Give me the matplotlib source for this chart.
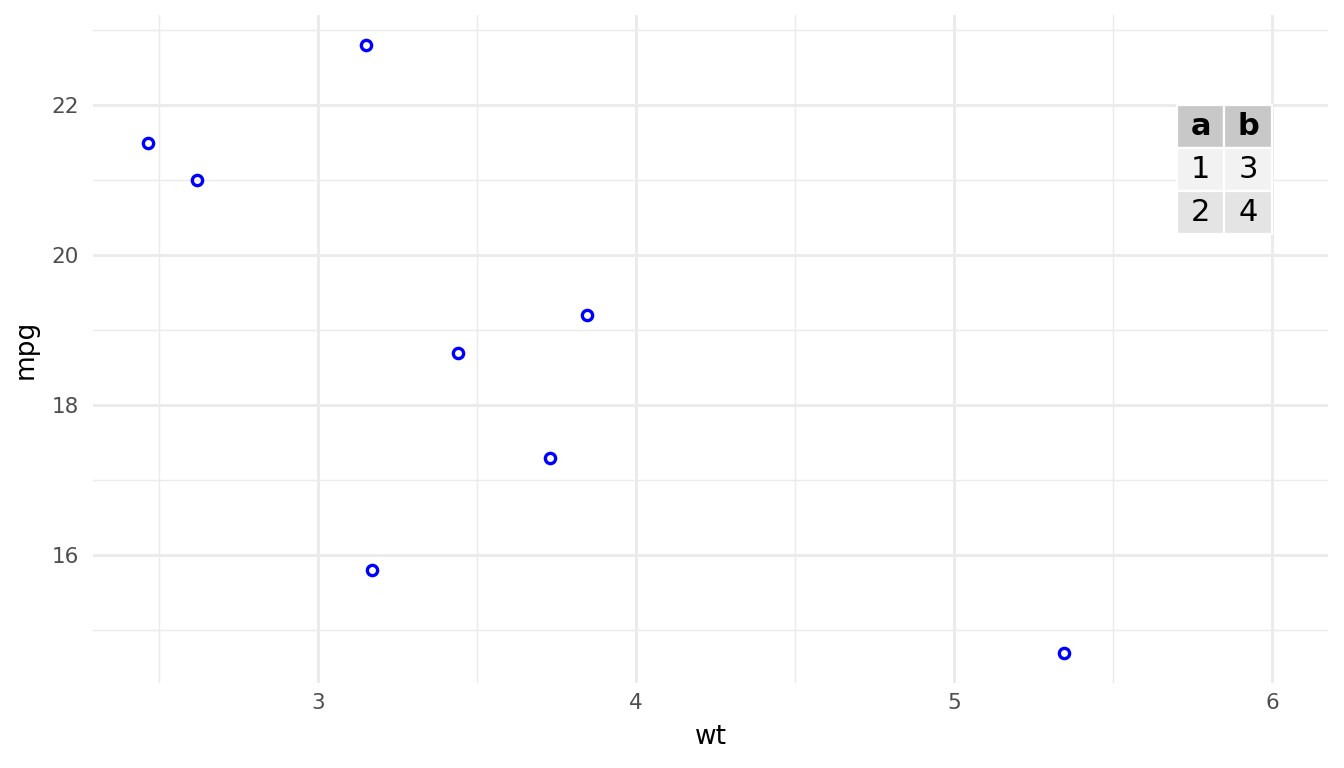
import matplotlib
matplotlib.use("Agg")
import matplotlib.pyplot as plt
import matplotlib.transforms as mtransforms
from matplotlib.patches import Rectangle

# mtcars subset
wt = [2.620, 3.150, 3.440, 3.730, 3.845, 3.170, 2.465, 5.345]
mpg = [21.0, 22.8, 18.7, 17.3, 19.2, 15.8, 21.5, 14.7]

x_major = [3, 4, 5, 6]
x_minor = [2.5, 3.5, 4.5, 5.5]
y_major = [16, 18, 20, 22]
y_minor = [15, 17, 19, 21, 23]

# inset table, anchored top-right at (6, 22)
table_header = ["a", "b"]
table_rows = [["1", "3"], ["2", "4"]]
table_anchor = (6, 22)

GRID = "#ebebeb"
W, H = 1344, 768

fig = plt.figure(figsize=(W / 100, H / 100), dpi=100)
ax = fig.add_axes([93 / W, (H - 683) / H, (1328 - 93) / W, (683 - 15) / H])

ax.set_xlim(2.2925, 6.176)
ax.set_ylim(14.295, 23.205)

ax.set_xticks(x_major)
ax.set_xticks(x_minor, minor=True)
ax.set_yticks(y_major)
ax.set_yticks(y_minor, minor=True)
ax.grid(which="major", color=GRID, linewidth=2.1)
ax.grid(which="minor", color=GRID, linewidth=1.05)
ax.set_axisbelow(True)
for s in ax.spines.values():
    s.set_visible(False)
ax.tick_params(which="both", length=0, labelsize=15.5, labelcolor="#4d4d4d")
ax.tick_params(axis="x", pad=7)
ax.tick_params(axis="y", pad=10)

ax.plot(wt, mpg, linestyle="none", marker="o", markersize=7.4,
        markerfacecolor="none", markeredgecolor="blue", markeredgewidth=2.4,
        zorder=3)

ax.set_xlabel("wt", fontsize=19, labelpad=8)
ax.set_ylabel("mpg", fontsize=19, labelpad=9)

# table: cell sizes in pixels, placed relative to the data anchor
col_w = [47, 48]
row_h = [43, 43, 43]
fills = ["#c8c8c8", "#f2f2f2", "#e4e4e4"]
trans = mtransforms.Affine2D() + mtransforms.ScaledTranslation(
    table_anchor[0], table_anchor[1], ax.transData)

cells = [table_header] + table_rows
total_w = sum(col_w)
y_top = 0
for r, row in enumerate(cells):
    x_left = -total_w
    for c, txt in enumerate(row):
        ax.add_patch(Rectangle((x_left, y_top - row_h[r]), col_w[c], row_h[r],
                               facecolor=fills[r], edgecolor="white",
                               linewidth=1.6, transform=trans, zorder=4,
                               clip_on=False))
        ax.text(x_left + col_w[c] / 2, y_top - row_h[r] / 2, txt,
                transform=trans, ha="center", va="center", fontsize=22,
                fontweight="bold" if r == 0 else "normal", color="black",
                zorder=5)
        x_left += col_w[c]
    y_top -= row_h[r]

fig.savefig("out.png", dpi=100, facecolor="white")
